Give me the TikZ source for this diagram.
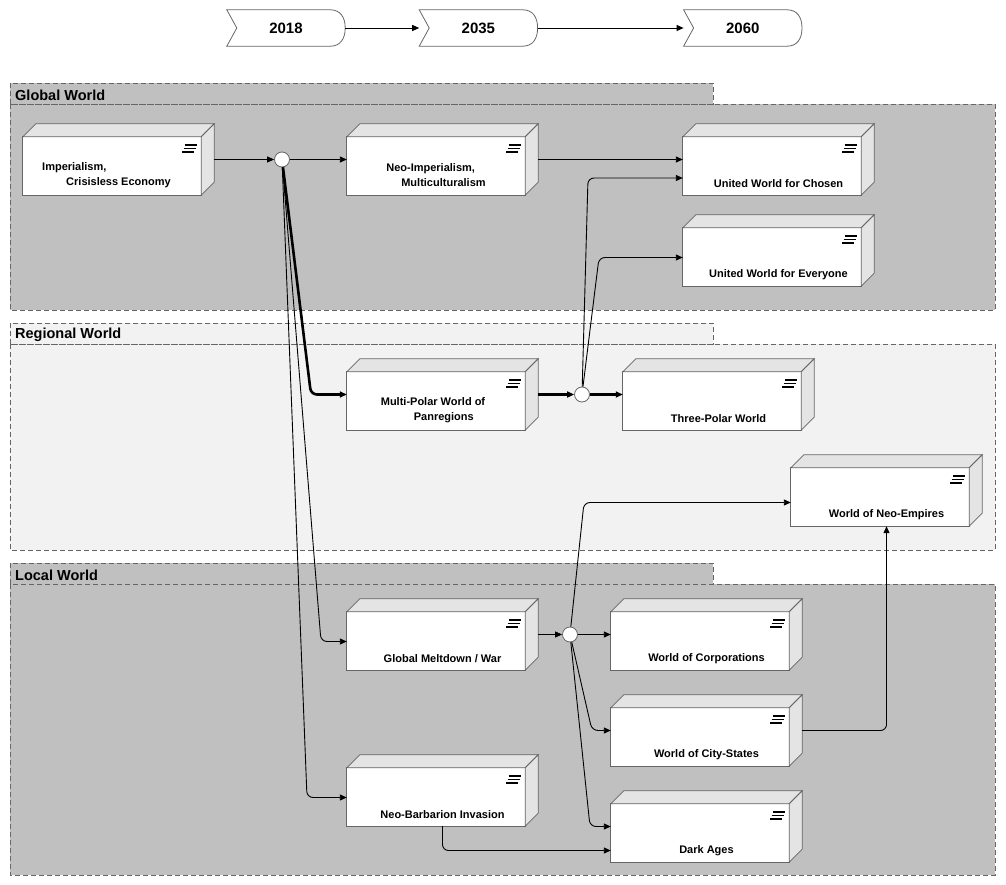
\documentclass[tikz,border=0pt]{standalone}
\usepackage{fontspec}
\setmainfont{Liberation Sans}
\usepackage{tikz}
\usetikzlibrary{arrows.meta,positioning,calc}
\definecolor{cLane}{HTML}{C0C0C0}
\definecolor{cPale}{HTML}{F2F2F2}
\definecolor{cEdge}{HTML}{666666}
\definecolor{cSide}{HTML}{E4E4E4}
\tikzset{
  lane/.style={draw=cEdge,dash pattern=on 5pt off 3pt,line width=0.8pt},
  lanetitle/.style={anchor=west,inner sep=0pt,
              font=\fontsize{14.5}{16}\selectfont\bfseries},
  yearbox/.style={minimum width=118pt,minimum height=36pt,inner sep=0pt,
              font=\fontsize{15}{16}\selectfont\bfseries},
  wframe/.style={minimum width=191pt,minimum height=71pt,inner sep=0pt},
  wtext/.style={font=\fontsize{11}{15}\selectfont\bfseries,align=left,inner sep=0pt},
  boxface/.style={draw=cEdge,line width=0.8pt},
  junc/.style={circle,draw=cEdge,fill=white,line width=0.8pt,
              minimum size=15pt,inner sep=0pt},
  flow/.style={-{Triangle[length=7pt,width=6pt]},line width=0.9pt,rounded corners=6pt},
  boldflow/.style={flow,line width=2.6pt},
}
% 3D world box: name, centre of whole block, text (optional text shift)
\newcommand{\worldbox}[4][0,24.5]{%
  \node[wframe] (#2) at (#3) {};
  \filldraw[boxface,fill=white] (#2.south west) rectangle ($(#2.north east)+(-13,13)$);
  \filldraw[boxface,fill=cSide] ($(#2.north west)+(0,13)$) -- ($(#2.north west)+(13,0)$)
     -- (#2.north east) -- ($(#2.north east)+(-13,13)$) -- cycle;
  \filldraw[boxface,fill=cSide] ($(#2.north east)+(-13,13)$) -- (#2.north east)
     -- ($(#2.south east)+(0,-13)$) -- ($(#2.south east)+(-13,0)$) -- cycle;
  \foreach \k in {0,1,2}
    \draw[line width=1.8pt] ($(#2.north east)+({-29.5-1.2*\k},{21.5+3.2*\k})$)
       -- ($(#2.north east)+({-17-1.4*\k},{21.5+3.2*\k})$);
  \node[wtext] at ($(#2.center)+(#1)$) {#4};
}

\begin{document}
\begin{tikzpicture}[x=1pt,y=-1pt]
  \useasboundingbox (0,0) rectangle (1006,885);
  % lanes
  \filldraw[lane,fill=cLane] (10,104) rectangle (995,310);
  \filldraw[lane,fill=cLane] (10,83) rectangle (713,104);
  \node[lanetitle] (tglobal) at (15,95) {Global World};
  \filldraw[lane,fill=cPale] (10,344) rectangle (995,550);
  \filldraw[lane,fill=cPale] (10,323) rectangle (713,344);
  \node[lanetitle] (tregion) at (15,335) {Regional World};
  \filldraw[lane,fill=cLane] (10,584) rectangle (995,875);
  \filldraw[lane,fill=cLane] (10,563) rectangle (713,584);
  \node[lanetitle] (tlocal) at (15,575) {Local World};

  % timeline
  \node[yearbox] (yr18) at (286,28) {2018};
  \node[yearbox,right=74pt of yr18] (yr35) {2035};
  \node[yearbox,right=146pt of yr35] (yr60) {2060};
  \foreach \y in {yr18,yr35,yr60}
    \draw[boxface] (\y.north west) -- ($(\y.north east)+(-15,0)$)
      .. controls ($(\y.north east)+(-5,0)$) and ($(\y.east)+(0,-11)$) .. (\y.east)
      .. controls ($(\y.east)+(0,11)$) and ($(\y.south east)+(-5,0)$) .. ($(\y.south east)+(-15,0)$)
      -- (\y.south west) -- ($(\y.west)+(10,0)$) -- cycle;
  \draw[flow] (yr18.east) -- (yr35.west);
  \draw[flow] (yr35.east) -- (yr60.west);

  % scenarios
  \worldbox[-12,16]{imp}{118.5,159.5}{Imperialism,\\\hspace*{24pt}Crisisless Economy}
  \worldbox[-6.5,16]{neo}{442.5,159.5}{Neo-Imperialism,\\\hspace*{15pt}Multiculturalism}
  \worldbox{ucho}{778.5,159.5}{United World for Chosen}
  \worldbox{uevr}{778.5,250.5}{United World for Everyone}
  \worldbox[-9.5,16]{multi}{442.5,394.5}{Multi-Polar World of\\\hspace*{33pt}Panregions}
  \worldbox{three}{718.5,394.5}{Three-Polar World}
  \worldbox{empire}{886.5,490.5}{World of Neo-Empires}
  \worldbox{melt}{442.5,634.5}{Global Meltdown / War}
  \worldbox{corp}{706.5,634.5}{World of Corporations}
  \worldbox{city}{706.5,730.5}{World of City-States}
  \worldbox{dark}{706.5,826.5}{Dark Ages}
  \worldbox{barb}{442.5,790.5}{Neo-Barbarion Invasion}

  % branching points
  \node[junc] (j1) at (282,159.5) {};
  \node[junc] (j2) at (582,394.5) {};
  \node[junc] (j3) at (570,634.5) {};

  % transitions
  \draw[flow] (imp.east) -- (j1);
  \draw[flow] (j1) -- (neo.west);
  \draw[flow] (neo.east) -- (ucho.west);
  \draw[boldflow] (j1) -- (311,394.5) -- (multi.west);
  \draw[flow] (j1) -- (321,641.5) -- ($(melt.west)+(0,7)$);
  \draw[flow] (j1) -- (307,797.5) -- ($(barb.west)+(0,7)$);
  \draw[boldflow] (multi.east) -- (j2);
  \draw[boldflow] (j2) -- (three.west);
  \draw[flow] (j2) -- (588,178) -- ($(ucho.west)+(0,18.5)$);
  \draw[flow] (j2) -- (599,257.5) -- ($(uevr.west)+(0,7)$);
  \draw[flow] (melt.east) -- (j3);
  \draw[flow] (j3) -- (corp.west);
  \draw[flow] (j3) -- (584,502.5) -- ($(empire.west)+(0,12)$);
  \draw[flow] (j3) -- (592,730.5) -- (city.west);
  \draw[flow] (j3) -- (590,826.5) -- (dark.west);
  \draw[flow] (barb.south) |- ($(dark.west)+(0,24)$);
  \draw[flow] (city.east) -| (empire.south);
\end{tikzpicture}
\end{document}
